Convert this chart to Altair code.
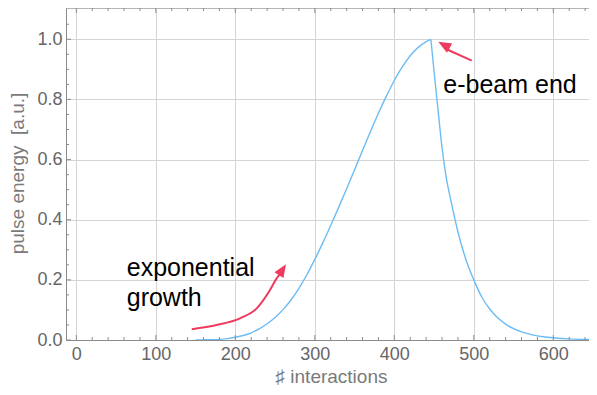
import altair as alt
import pandas as pd

# ---- curve data ----
rise_x = [150, 160, 170, 180, 190, 200, 210, 220, 230, 240, 250, 260, 270, 280, 290, 300, 310, 320,
          330, 340, 350, 360, 370, 380, 390, 400, 410, 420, 430, 440, 446]
rise_y = [0.0, 0.0005, 0.001, 0.002, 0.0045, 0.009, 0.015, 0.024, 0.037, 0.054, 0.075, 0.101, 0.133,
          0.172, 0.217, 0.268, 0.323, 0.381, 0.441, 0.503, 0.566, 0.630, 0.693, 0.754, 0.811, 0.863,
          0.908, 0.945, 0.973, 0.992, 1.0]
fall_x = [446, 450, 455, 460, 465, 471, 480, 490, 500, 510, 520, 530, 540, 550, 560, 575, 590, 605, 620, 645]
fall_y = [1.0, 0.893, 0.765, 0.64, 0.545, 0.466, 0.36, 0.268, 0.2, 0.143, 0.103, 0.0736, 0.0527, 0.0378,
          0.027, 0.0164, 0.0099, 0.006, 0.0036, 0.0015]

# ---- ticks ----
x_major = [0, 100, 200, 300, 400, 500, 600]
x_minor = [20, 40, 60, 80, 120, 140, 160, 180, 220, 240, 260, 280, 320, 340, 360, 380,
           420, 440, 460, 480, 520, 540, 560, 580, 620, 640]
y_major = [0.0, 0.2, 0.4, 0.6, 0.8, 1.0]
y_minor = [0.05, 0.1, 0.15, 0.25, 0.3, 0.35, 0.45, 0.5, 0.55, 0.65, 0.7, 0.75, 0.85, 0.9, 0.95, 1.05]

# ---- annotations ----
label_text = ["exponential", "growth", "e-beam end"]
label_x = [63.4, 63.4, 461.6]
label_y = [0.213, 0.114, 0.820]

arrow_id = ["a1", "a1", "a2", "a2", "a2", "a2", "a2", "a2", "a2"]
arrow_x = [497.4, 466.5, 145.2, 176.6, 205.9, 226.9, 243.6, 252.0, 256.0]
arrow_y = [0.929, 0.966, 0.036, 0.050, 0.072, 0.105, 0.166, 0.205, 0.218]

head_x = [455.3, 263.8]
head_y = [0.992, 0.2518]
head_angle = [299.7, 33.0]

W, H = 523, 332
FONT = "Liberation Sans"
RED = "#ee3a5e"
BLUE = "#6cbcf5"
FRAME = "#8c8c8c"
GRID = "#d4d4d4"

xs = alt.Scale(domain=[-13, 644.9], nice=False, zero=False)
ys = alt.Scale(domain=[0, 1.104], nice=False, zero=False)

x_axis = alt.Axis(
    values=x_major, title="♯ interactions", grid=True, gridColor=GRID,
    ticks=False, tickSize=0, domain=True, domainColor=FRAME,
    labelFont=FONT, labelFontSize=18, labelColor="#666666", labelPadding=5,
    titleFont=FONT, titleFontSize=19, titleFontWeight="normal", titleColor="#7a7a7a",
    titleX=265, titleY=42, titleBaseline="alphabetic", titleAnchor="middle",
)
y_axis = alt.Axis(
    values=y_major, format=".1f", title="pulse energy\u00a0 [a.u.]", grid=True, gridColor=GRID,
    ticks=False, tickSize=0, domain=True, domainColor=FRAME,
    labelFont=FONT, labelFontSize=18, labelColor="#666666", labelPadding=4,
    titleFont=FONT, titleFontSize=19, titleFontWeight="normal", titleColor="#7a7a7a",
    titleAngle=-90, titleX=-43, titleY=165, titleBaseline="alphabetic", titleAlign="center",
)

curve_df = pd.DataFrame({
    "x": rise_x + fall_x,
    "y": rise_y + fall_y,
    "seg": ["rise"] * len(rise_x) + ["fall"] * len(fall_x),
})

curve = alt.Chart(curve_df).mark_line(
    color=BLUE, strokeWidth=1.4, interpolate="monotone", clip=True
).encode(
    x=alt.X("x:Q", scale=xs, axis=x_axis),
    y=alt.Y("y:Q", scale=ys, axis=y_axis),
    detail="seg:N",
)

def xticks(vals, y0, y1):
    return alt.Chart(pd.DataFrame({"x": vals})).mark_rule(color=FRAME, strokeWidth=1, clip=True).encode(
        x=alt.X("x:Q", scale=xs, axis=x_axis), y=alt.value(y0), y2=alt.value(y1))

def yticks(vals, x0, x1):
    return alt.Chart(pd.DataFrame({"y": vals})).mark_rule(color=FRAME, strokeWidth=1).encode(
        y=alt.Y("y:Q", scale=ys, axis=y_axis), x=alt.value(x0), x2=alt.value(x1))

ticks = [
    xticks(x_major, H, H - 5), xticks(x_minor, H, H - 3),
    xticks(x_major, 0, 5), xticks(x_minor, 0, 3),
    yticks(y_major, 0, 5), yticks(y_minor, 0, 3),
]

top_frame = alt.Chart(pd.DataFrame({"v": [0]})).mark_rule(color=FRAME, strokeWidth=1).encode(
    x=alt.value(0), x2=alt.value(W), y=alt.value(0))

labels = alt.Chart(pd.DataFrame({"x": label_x, "y": label_y, "t": label_text})).mark_text(
    align="left", baseline="alphabetic", font=FONT, fontSize=25, color="black"
).encode(x=alt.X("x:Q", scale=xs, axis=x_axis), y=alt.Y("y:Q", scale=ys, axis=y_axis), text="t:N")

arrows = alt.Chart(pd.DataFrame({"x": arrow_x, "y": arrow_y, "id": arrow_id})).mark_line(
    color=RED, strokeWidth=2, interpolate="monotone"
).encode(x=alt.X("x:Q", scale=xs, axis=x_axis), y=alt.Y("y:Q", scale=ys, axis=y_axis), detail="id:N")

heads = alt.Chart(pd.DataFrame({"x": head_x, "y": head_y, "a": head_angle})).mark_point(
    shape="M0,0L-0.82,2L0.82,2Z", filled=True, size=169, color=RED, opacity=1, strokeWidth=0
).encode(x=alt.X("x:Q", scale=xs, axis=x_axis), y=alt.Y("y:Q", scale=ys, axis=y_axis),
         angle=alt.Angle("a:Q", scale=None))

chart = alt.layer(curve, *ticks, top_frame, arrows, heads, labels).properties(
    width=W, height=H,
    autosize=alt.AutoSizeParams(type="none"),
    padding={"left": 58, "top": 0, "right": 0, "bottom": 47},
).configure_view(stroke=None).configure(background="white")

chart.save("out.html", embed_options={"renderer": "svg", "actions": False})
